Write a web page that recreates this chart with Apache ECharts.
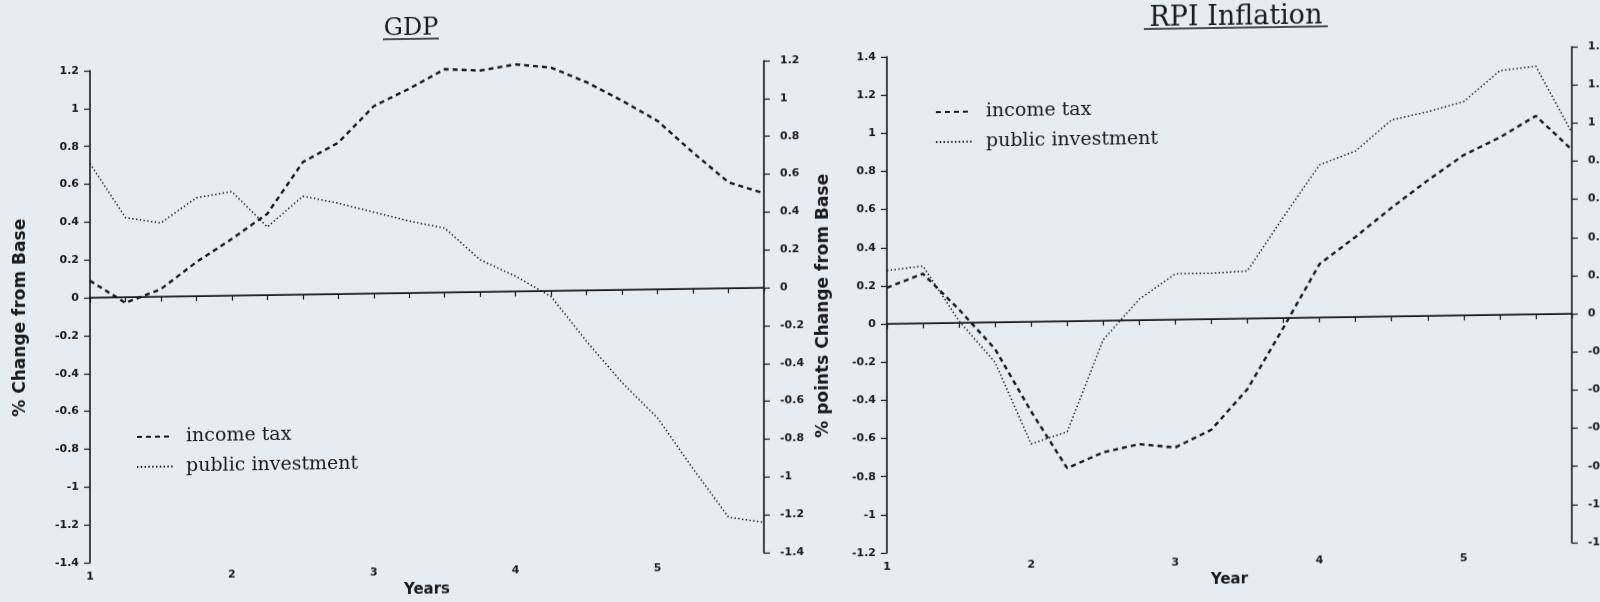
<!DOCTYPE html>
<html>
<head>
<meta charset="utf-8">
<script src="https://cdn.jsdelivr.net/npm/echarts@6/dist/echarts.min.js"></script>
<style>
  html, body { margin: 0; padding: 0; background: #e5ecf2; overflow: hidden; }
  /* the scanned page is slightly skewed: right side sits higher */
  #chart-container { width: 1600px; height: 602px; transform: skewY(-0.85deg); transform-origin: 0 0; }
</style>
</head>
<body>
<div id="chart-container"></div>
<script>
const years = [1, 1.25, 1.5, 1.75, 2, 2.25, 2.5, 2.75, 3, 3.25, 3.5, 3.75, 4, 4.25, 4.5, 4.75, 5, 5.25, 5.5, 5.75];
const yearLabels = [1, 2, 3, 4, 5];
const seriesNames = ["income tax", "public investment"];

const gdpIncomeTax = [0.09, -0.03, 0.04, 0.18, 0.30, 0.43, 0.70, 0.80, 0.99, 1.08, 1.18, 1.17, 1.20, 1.18, 1.10, 1.00, 0.89, 0.72, 0.56, 0.50];
const gdpPublicInvestment = [0.71, 0.42, 0.39, 0.52, 0.55, 0.36, 0.52, 0.48, 0.43, 0.38, 0.34, 0.17, 0.08, -0.03, -0.27, -0.49, -0.68, -0.95, -1.21, -1.24];

const rpiIncomeTax = [0.19, 0.26, 0.07, -0.14, -0.47, -0.77, -0.69, -0.65, -0.67, -0.58, -0.37, -0.05, 0.28, 0.42, 0.57, 0.71, 0.84, 0.93, 1.04, 0.86];
const rpiPublicInvestment = [0.28, 0.30, 0.01, -0.21, -0.64, -0.58, -0.10, 0.11, 0.24, 0.24, 0.25, 0.53, 0.80, 0.87, 1.03, 1.07, 1.12, 1.28, 1.30, 0.95];

const ink = "#1a1a1a";

function pairs(values) {
  return years.map((x, i) => [x, values[i]]);
}

function xAxisFor(gridIndex, name) {
  return {
    type: "value",
    gridIndex: gridIndex,
    min: 1,
    max: 5.75,
    interval: 0.25,
    name: name,
    nameLocation: "middle",
    nameGap: 24,
    nameTextStyle: { color: ink, fontFamily: "DejaVu Sans", fontWeight: "bold", fontSize: 15 },
    axisLine: { lineStyle: { color: ink, width: 1.6 } },
    axisTick: { length: 5, lineStyle: { color: ink, width: 1.2 } },
    axisLabel: {
      color: ink,
      fontFamily: "DejaVu Sans",
      fontWeight: "bold",
      fontSize: 11,
      margin: 9,
      formatter: (v) => (yearLabels.indexOf(v) >= 0 ? String(v) : ""),
    },
    splitLine: { show: false },
  };
}

function yAxisFor(gridIndex, position, min, max, name, nameGap) {
  const left = position === "left";
  return {
    type: "value",
    gridIndex: gridIndex,
    position: position,
    min: min,
    max: max,
    interval: 0.2,
    name: name,
    nameLocation: "middle",
    nameGap: nameGap,
    nameTextStyle: { color: ink, fontFamily: "DejaVu Sans", fontWeight: "bold", fontSize: 17 },
    axisLine: { show: true, lineStyle: { color: ink, width: 1.6 } },
    axisTick: { show: true, length: 6, lineStyle: { color: ink, width: 1.2 } },
    axisLabel: {
      color: ink,
      fontFamily: "DejaVu Sans",
      fontWeight: "bold",
      fontSize: 11,
      margin: left ? 11 : 16,
    },
    splitLine: { show: false },
  };
}

const zeroLine = {
  silent: true,
  symbol: "none",
  label: { show: false },
  lineStyle: { color: ink, width: 1, type: "solid" },
  data: [{ yAxis: 0 }],
};

function lineSeries(name, values, xIndex, yIndex, dotted, withZero) {
  const s = {
    name: name,
    type: "line",
    xAxisIndex: xIndex,
    yAxisIndex: yIndex,
    data: pairs(values),
    symbol: "none",
    color: ink,
    lineStyle: dotted
      ? { color: ink, width: 1.5, type: [1.4, 2.4] }
      : { color: ink, width: 2.4, type: [5, 4] },
  };
  if (withZero) s.markLine = zeroLine;
  return s;
}

function legendAt(left, top, textPad) {
  return {
    data: seriesNames,
    orient: "vertical",
    left: left,
    top: top,
    itemWidth: 36,
    itemHeight: 14,
    itemGap: 10,
    selectedMode: false,
    // hide the circle marker, keep only the line sample
    itemStyle: { color: "transparent", borderWidth: 0, opacity: 0 },
    textStyle: {
      color: ink,
      fontFamily: "DejaVu Serif",
      fontSize: 19,
      lineHeight: 20,
      padding: [0, 0, 0, textPad],
    },
  };
}

function titleWithRule(text, cx, cy, size, ruleWidth) {
  return [
    {
      type: "text",
      x: cx,
      y: cy,
      style: {
        text: text,
        fill: ink,
        font: size + "px 'DejaVu Serif'",
        align: "center",
        verticalAlign: "middle",
      },
    },
    {
      type: "line",
      shape: { x1: cx - ruleWidth / 2, y1: cy + 10, x2: cx + ruleWidth / 2, y2: cy + 10 },
      style: { stroke: ink, lineWidth: 1.3 },
    },
  ];
}

const option = {
  backgroundColor: "#e5ecf2",
  animation: false,
  grid: [
    { left: 90, right: 836, top: 72, bottom: 38, outerBoundsMode: "none" },
    { left: 887, right: 28, top: 70, bottom: 36, outerBoundsMode: "none" },
  ],
  xAxis: [xAxisFor(0, "Years"), xAxisFor(1, "Year")],
  yAxis: [
    yAxisFor(0, "left", -1.4, 1.2, "% Change from Base", 61),
    yAxisFor(0, "right", -1.4, 1.2, "", 0),
    yAxisFor(1, "left", -1.2, 1.4, "% points Change from Base", 55),
    yAxisFor(1, "right", -1.2, 1.4, "", 0),
  ],
  legend: [legendAt(131, 424, 8), legendAt(930, 111, 9)],
  graphic: [].concat(
    titleWithRule("GDP", 411, 35, 24, 56),
    titleWithRule("RPI Inflation", 1236, 36, 27, 184)
  ),
  series: [
    lineSeries(seriesNames[0], gdpIncomeTax, 0, 0, false, true),
    lineSeries(seriesNames[1], gdpPublicInvestment, 0, 0, true, false),
    lineSeries(seriesNames[0], rpiIncomeTax, 1, 2, false, true),
    lineSeries(seriesNames[1], rpiPublicInvestment, 1, 2, true, false),
  ],
};

let myChart = echarts.init(document.getElementById("chart-container"));
myChart.setOption(option);
</script>
</body>
</html>
